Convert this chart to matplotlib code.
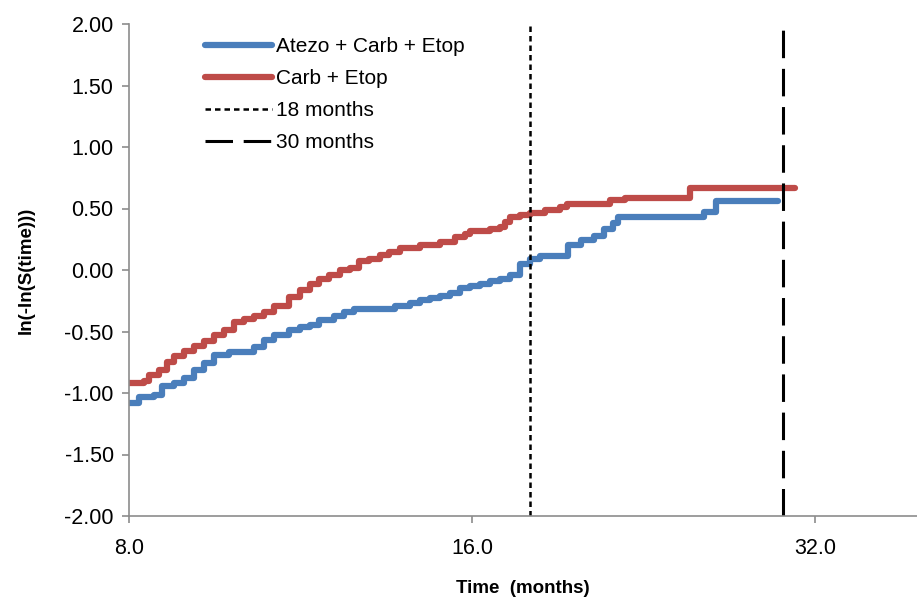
import matplotlib
matplotlib.use("agg")
import matplotlib.pyplot as plt
from matplotlib.ticker import FixedLocator, FixedFormatter, NullLocator

plt.rcParams['font.family'] = ['Liberation Sans', 'DejaVu Sans']

# step times (months) and ln(-ln(S)) values
atezo_t = [8.00, 8.16, 8.42, 8.55, 8.76, 8.94, 9.12, 9.31, 9.50, 9.79, 10.10, 10.30,
           10.51, 10.73, 11.06, 11.29, 11.52, 11.75, 12.11, 12.36, 12.61, 13.70, 14.10,
           14.39, 14.68, 14.98, 15.29, 15.60, 15.92, 16.25, 16.58, 16.92, 17.26, 17.62,
           17.98, 18.34, 19.40, 19.95, 20.45, 20.90, 21.25, 21.50, 25.55, 26.20, 29.69]
atezo_v = [-1.08, -1.03, -1.02, -0.94, -0.92, -0.88, -0.81, -0.76, -0.69, -0.67, -0.67, -0.63,
           -0.57, -0.53, -0.49, -0.46, -0.45, -0.41, -0.37, -0.34, -0.32, -0.29, -0.27,
           -0.24, -0.23, -0.21, -0.19, -0.15, -0.13, -0.11, -0.09, -0.07, -0.04, 0.05,
           0.09, 0.11, 0.20, 0.24, 0.28, 0.33, 0.38, 0.43, 0.47, 0.56, 0.56]

carb_t = [8.00, 8.25, 8.33, 8.50, 8.64, 8.76, 8.94, 9.12, 9.31, 9.50, 9.70, 9.89, 10.10,
          10.30, 10.51, 10.73, 11.06, 11.29, 11.52, 11.75, 11.99, 12.24, 12.49, 12.74,
          13.00, 13.27, 13.54, 13.82, 14.39, 14.98, 15.44, 15.76, 15.92, 16.58, 16.92,
          17.09, 17.26, 17.62, 17.98, 18.53, 19.10, 19.37, 21.13, 21.79, 24.85, 30.73]
carb_v = [-0.92, -0.90, -0.85, -0.81, -0.75, -0.70, -0.66, -0.62, -0.58, -0.53, -0.49, -0.42, -0.40,
          -0.37, -0.34, -0.29, -0.22, -0.16, -0.11, -0.07, -0.04, 0.00, 0.02, 0.07,
          0.09, 0.12, 0.15, 0.18, 0.20, 0.23, 0.27, 0.29, 0.32, 0.33, 0.35,
          0.39, 0.43, 0.45, 0.46, 0.49, 0.51, 0.54, 0.57, 0.585, 0.67, 0.67]

marks = [18, 30]
x_ticks = [8, 16, 32]
x_labels = ['8.0', '16.0', '32.0']
y_ticks = [-2.0, -1.5, -1.0, -0.5, 0.0, 0.5, 1.0, 1.5, 2.0]

fig = plt.figure(figsize=(9.17, 6.03), dpi=100)
ax = fig.add_axes([129/917, 87/603, 788/917, 492/603])

ax.step(atezo_t, atezo_v, where='post', color='#4A7EBB', lw=4.5,
        solid_capstyle='round', label='Atezo + Carb + Etop')
ax.step(carb_t, carb_v, where='post', color='#BE4B48', lw=4.5,
        solid_capstyle='round', label='Carb + Etop')
ax.axvline(marks[0], color='black', lw=1.8, ls=(0, (2.2, 1.6)), label='18 months')
ax.axvline(marks[1], color='black', lw=2.2, ls=(0, (9, 3.5)), label='30 months')

ax.set_xscale('log', base=2)
ax.set_xlim(8, 39.3)
ax.set_ylim(-2, 2)
ax.xaxis.set_major_locator(FixedLocator(x_ticks))
ax.xaxis.set_major_formatter(FixedFormatter(x_labels))
ax.xaxis.set_minor_locator(NullLocator())
ax.set_yticks(y_ticks)
ax.set_yticklabels(['%.2f' % v for v in y_ticks])

for s in ['top', 'right']:
    ax.spines[s].set_visible(False)
for s in ['left', 'bottom']:
    ax.spines[s].set_color('#8c8c8c')
    ax.spines[s].set_linewidth(1.2)
ax.tick_params(direction='out', length=5, width=1.2, color='#8c8c8c',
               labelsize=15.5, labelcolor='black')
ax.tick_params(axis='y', pad=6)
ax.tick_params(axis='x', pad=11)

ax.set_xlabel('Time  (months)', fontsize=13.5, fontweight='bold', labelpad=15)
ax.set_ylabel('ln(-ln(S(time)))', fontsize=13.5, fontweight='bold', labelpad=21)

leg = ax.legend(loc='upper left', bbox_to_anchor=(0.073, 1.011), frameon=False,
                fontsize=15, handlelength=3.2, handletextpad=0.2, labelspacing=0.62)

fig.savefig('out.png', dpi=100)
